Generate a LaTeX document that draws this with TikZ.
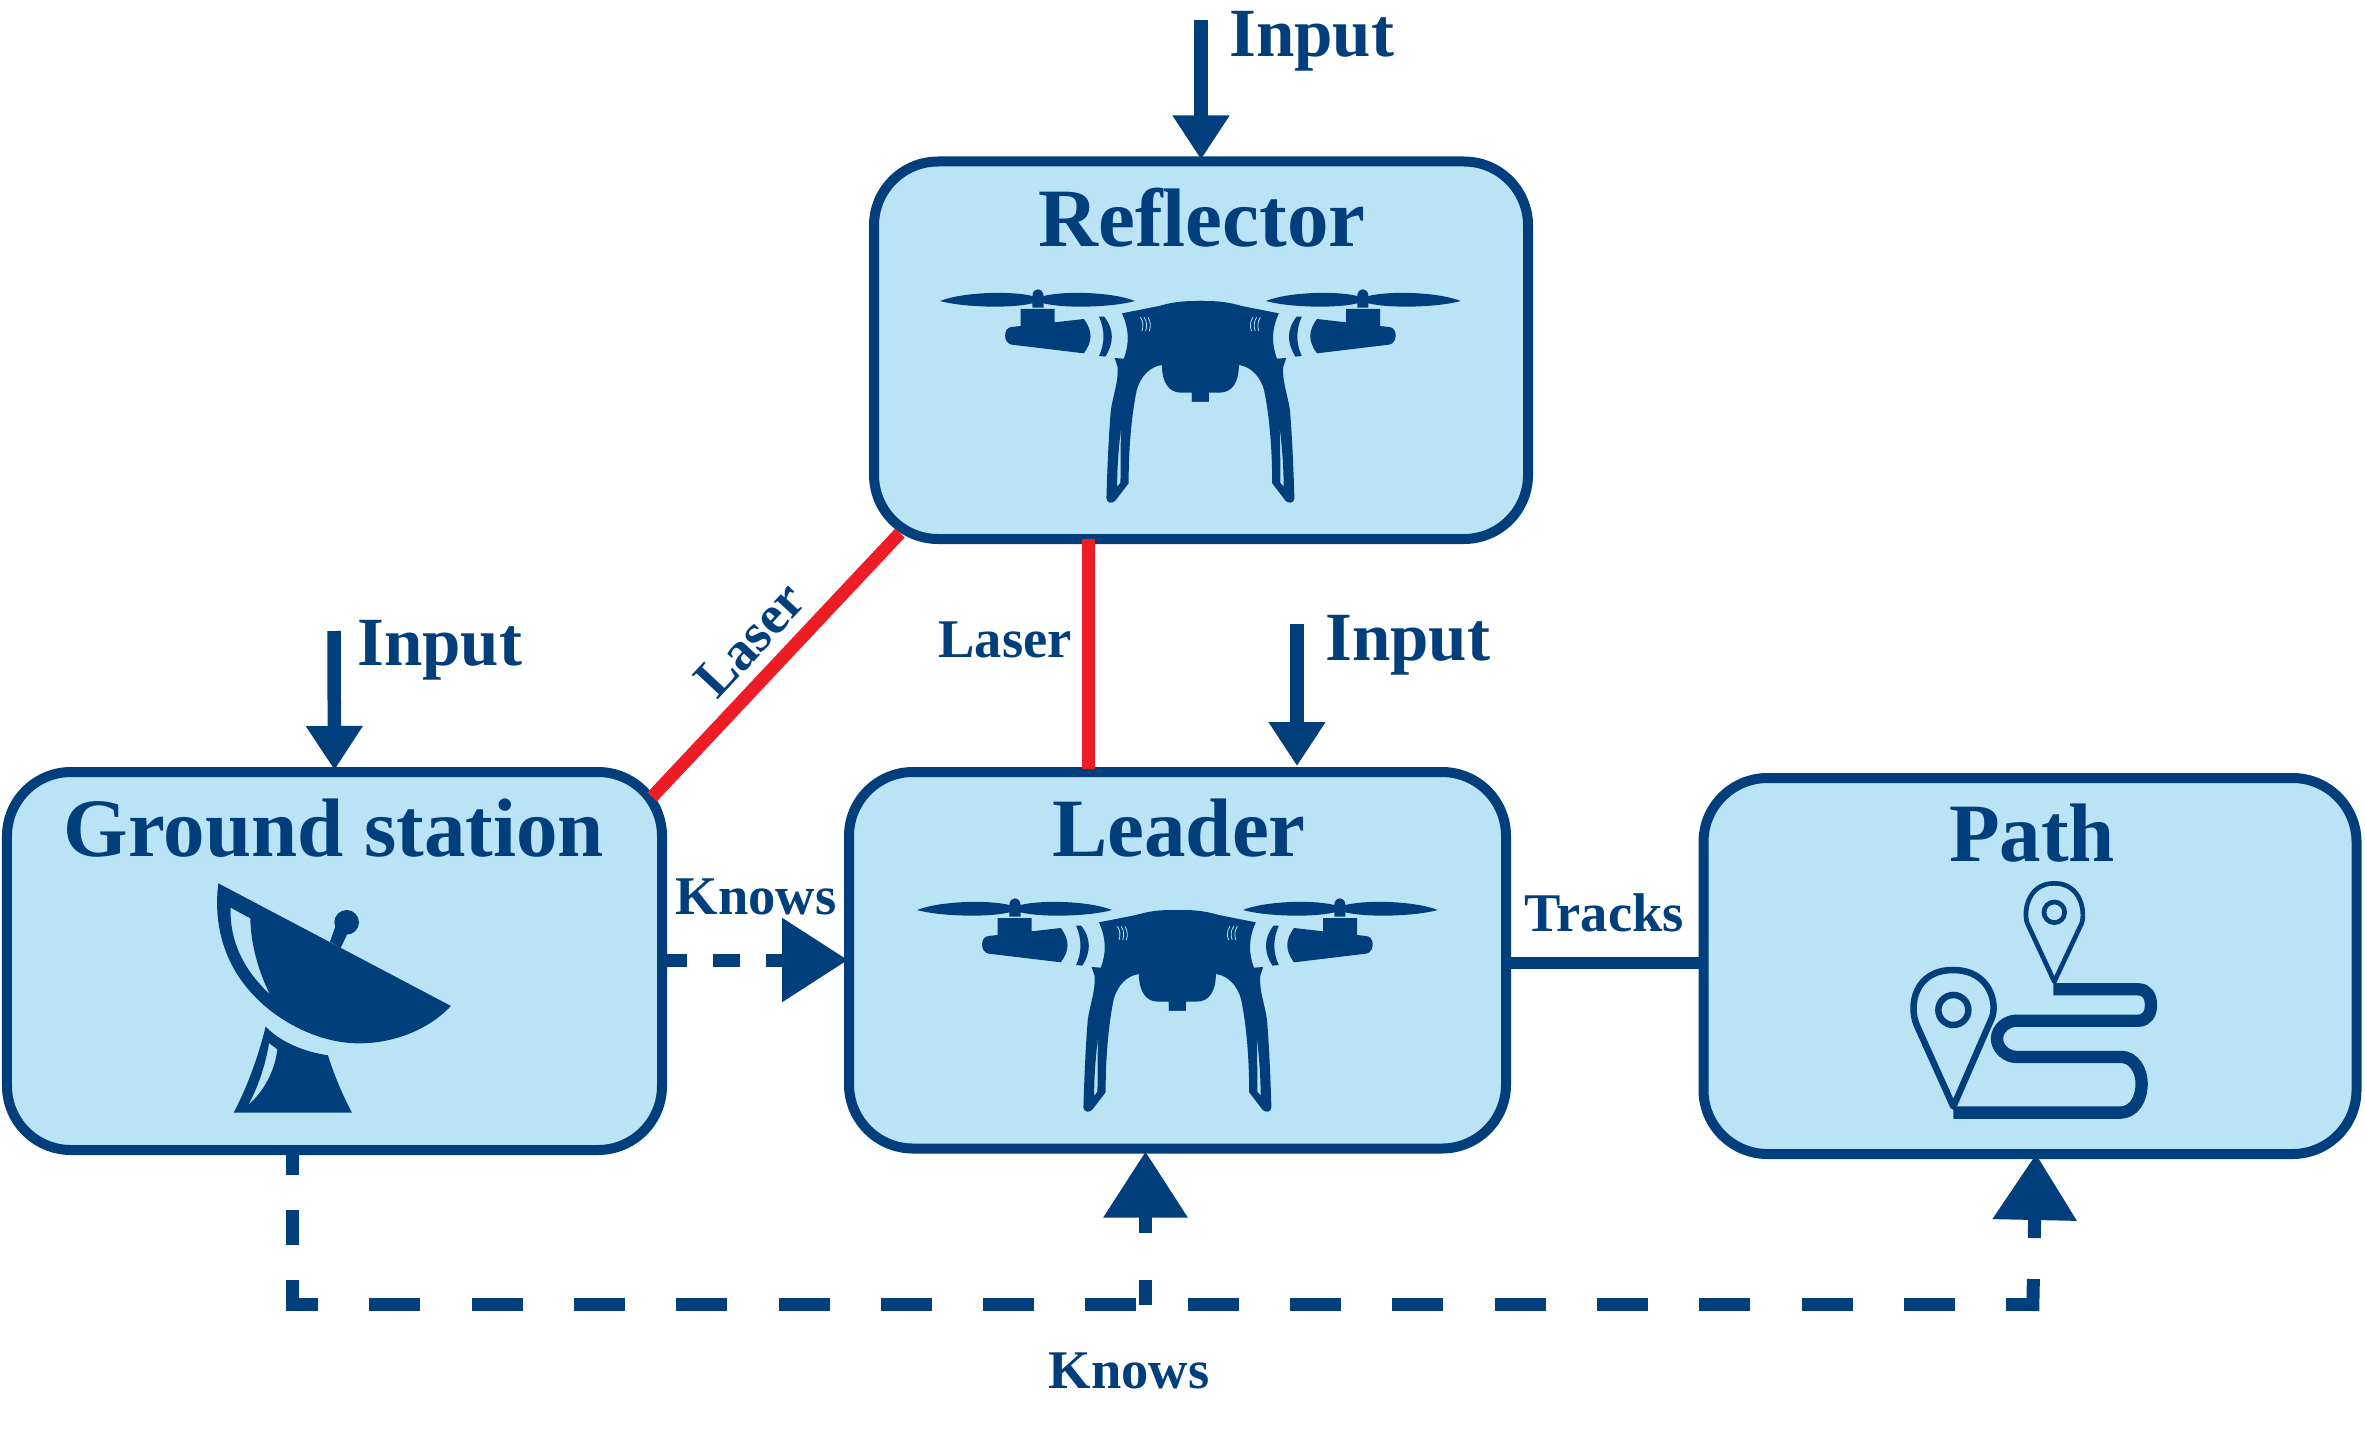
\documentclass[tikz,border=0pt]{standalone}
\usepackage{fontspec}
\setmainfont{Liberation Serif}
\usetikzlibrary{arrows.meta}
\definecolor{navy}{HTML}{003F7C}
\definecolor{pale}{HTML}{BAE4F6}
\definecolor{laser}{HTML}{EE1C25}
\tikzset{
  box/.style={draw=navy,fill=pale,line width=10bp,rounded corners=64bp,outer sep=0pt,inner sep=0pt},
  title/.style={text=navy,anchor=base,inner sep=0pt,font=\bfseries\fontsize{83bp}{90bp}\selectfont},
  inlabel/.style={text=navy,anchor=base west,inner sep=0pt,font=\bfseries\fontsize{69bp}{76bp}\selectfont},
  small/.style={text=navy,anchor=base,inner sep=0pt,font=\bfseries\fontsize{54.5bp}{60bp}\selectfont},
  inarrow/.style={draw=navy,line width=13.5bp,shorten >=2bp,-{Triangle[length=44bp,width=54bp,fill=navy]}},
  dashline/.style={draw=navy,line width=13bp},
  bighead/.style={-{Triangle[length=66bp,width=81bp,fill=navy]},shorten >=1bp},
  beam/.style={draw=laser,line width=13bp},
  link/.style={draw=navy,line width=12bp},
}
\newcommand{\dronehalf}{%
  % propeller
  \fill[navy] (108,93) .. controls (170,66) and (300,62) .. (358,78) .. controls (358,65) and (365,58) .. (372,58)
     .. controls (380,58) and (388,65) .. (388,78) .. controls (445,62) and (575,66) .. (635,93)
     .. controls (575,112) and (445,116) .. (388,100) -- (388,113) -- (358,113) -- (358,100)
     .. controls (300,116) and (170,112) .. (108,93) -- cycle;
  % motor and arm
  \fill[navy] (326,117) -- (418,117) -- (418,157) -- (497,147) .. controls (522,185) and (520,215) .. (497,250)
     -- (302,224) .. controls (278,220) and (278,172) .. (302,171) -- (326,168) -- cycle;
  % arc
  \fill[navy] (538,140) -- (552,140) .. controls (580,180) and (578,220) .. (555,260) -- (538,258)
     .. controls (554,220) and (554,180) .. (538,140) -- cycle;
  % body and leg
  \fill[navy,even odd rule] (600,130) -- (700,108) .. controls (750,92) and (780,93) .. (815,93)
     -- (815,368) -- (835,368) -- (835,395) -- (789,395) -- (789,368) -- (760,368)
     .. controls (725,368) and (708,335) .. (708,285)
     .. controls (675,290) and (650,320) .. (640,360)
     .. controls (625,440) and (618,540) .. (618,640)
     -- (582,692) .. controls (575,702) and (558,700) .. (558,685)
     .. controls (560,600) and (565,480) .. (570,420)
     .. controls (575,380) and (592,330) .. (588,290)
     -- (580,264) -- (605,266) .. controls (620,220) and (620,180) .. (600,130) -- cycle
     (598,472) .. controls (590,540) and (587,600) .. (587,650) -- (596,638) .. controls (596,580) and (596,520) .. (598,472) -- cycle;
  % body hatch
  \foreach \d in {0,10,20}{\draw[pale,line width=.8bp] (650+\d,142) .. controls (658+\d,155) and (658+\d,170) .. (654+\d,183);}
}
\newcommand{\drone}[2]{%
  \begin{scope}[shift={(#1,#2)},x=0.36995bp,y=-0.3333bp]
    \dronehalf
    \begin{scope}[shift={(1624,0)},xscale=-1]\dronehalf\end{scope}
  \end{scope}}
\begin{document}
\begin{tikzpicture}[x=1bp,y=-1bp]
\useasboundingbox (0,0) rectangle (2365,1434);
\fill[white] (0,0) rectangle (2365,1434);

% boxes
\node[box,minimum width=654bp,minimum height=377.5bp] (reflector) at (1201,350.25) {};
\node[box,minimum width=655bp,minimum height=378bp] (ground) at (334.5,961) {};
\node[box,minimum width=657bp,minimum height=376.5bp] (leader) at (1177.5,960.25) {};
\node[box,minimum width=653bp,minimum height=376bp] (path) at (2030,966) {};

% titles
\node[title] (treflector) at (1202,246) {Reflector};
\node[title] (tground) at (334,856) {Ground station};
\node[title] (tleader) at (1179,856) {Leader};
\node[title] (tpath) at (2032,861) {Path};

% icons
\drone{900}{270}
\drone{877}{879}

% dish
\begin{scope}[shift={(180,860)},x=0.3333bp,y=-0.3333bp]
  \fill[navy,even odd rule] (115,70) -- (813,438) .. controls (740,515) and (630,552) .. (530,550)
     .. controls (420,548) and (300,490) .. (220,405) .. controls (130,310) and (100,190) .. (115,70) -- cycle
     (152,143) -- (211,175) .. controls (212,250) and (235,335) .. (270,403)
     .. controls (190,330) and (148,240) .. (152,143) -- cycle;
  \fill[navy] (500,187) circle[radius=37];
  \fill[navy] (450,245) -- (466,200) -- (502,222) -- (482,264) -- cycle;
  \fill[navy,even odd rule] (257,500) .. controls (300,545) and (370,575) .. (444,586)
     .. controls (460,640) and (490,710) .. (516,758) -- (161,758)
     .. controls (200,685) and (235,590) .. (257,500) -- cycle
     (267,549) -- (292,568) .. controls (285,630) and (255,690) .. (205,735)
     .. controls (235,680) and (258,610) .. (267,549) -- cycle;
\end{scope}

% route and pins
\begin{scope}[shift={(1890,870)},x=0.3333bp,y=-0.3333bp]
  \draw[navy,line width=12.3bp] (490,358) -- (745,358) .. controls (771,358) and (783,379) .. (783,405)
     .. controls (783,431) and (771,452) .. (745,452) -- (380,452)
     .. controls (350,452) and (321,476) .. (321,506) .. controls (321,536) and (350,561) .. (380,561)
     -- (695,561) .. controls (730,561) and (755,600) .. (755,640) .. controls (755,690) and (730,728) .. (690,728)
     -- (190,728);
  \draw[navy,line width=4.7bp,line join=round] (493,335) -- (412,160) .. controls (400,130) and (410,40) .. (493,40)
     .. controls (576,40) and (586,130) .. (575,160) -- cycle;
  \draw[navy,line width=4.7bp] (493,127) circle[radius=31];
  \draw[navy,line width=6.5bp,line join=round] (190,710) -- (80,465) .. controls (55,405) and (75,300) .. (189,300)
     .. controls (303,300) and (323,405) .. (305,445) -- cycle;
  \draw[navy,line width=6.5bp] (190,420) circle[radius=45];
\end{scope}

% junction points
\coordinate (ininreflector) at (1201,20);
\coordinate (ininground) at (334,631);
\coordinate (ininleader) at (1297,624);
\coordinate (elbowa) at (292.7,1304.5);
\coordinate (elbowleft) at (286,1304.5);
\coordinate (elbowb) at (1145.5,1304.5);
\coordinate (elbowright) at (2039,1304.5);
\coordinate (elbowc) at (2032.7,1311);
\coordinate (pathfoot) at (2036,1154);
\coordinate (corner) at (292.7,1311);
\coordinate (knowstart) at (ground.east |- 0,960);
\coordinate (knowend) at (leader.west |- 0,960);
\coordinate (beamtop) at (900,533);
\coordinate (beamend) at (652,797);
\coordinate (upleft) at (1088.7,539);
\coordinate (upright) at (1088.7,769);

% input arrows
\draw[inarrow] (ininreflector) -- (reflector.north);
\draw[inarrow] (ininground) -- (ground.north);
\draw[inarrow,shorten >=6bp] (ininleader) -- (ininleader |- leader.north);

% lasers
\draw[beam] (beamtop) -- (beamend);
\draw[beam] (upleft) -- (upright);

% other links
\draw[link] (leader.east |- 0,963) -- (path.west |- 0,963);
\draw[dashline,bighead,dash pattern=on 27bp off 26bp,dash phase=2bp] (knowstart) -- (knowend);
\draw[dashline,dash pattern=on 35bp off 35bp,dash phase=10bp] (elbowa |- ground.south) -- (corner);
\draw[dashline,dash pattern=on 51bp off 51.3bp,dash phase=19bp] (elbowleft) -- (elbowright);
\draw[dashline,bighead,shorten >=3bp,dash pattern=on 25bp off 47bp on 200bp off 0bp] (elbowb) -- (elbowb |- leader.south);
\draw[dashline,bighead,shorten >=0bp,dash pattern=on 32bp off 41bp on 200bp off 0bp] (elbowc) -- (pathfoot);

% labels
\node[inlabel] (inr) at (1229,57) {Input};
\node[inlabel] (ing) at (357,665) {Input};
\node[inlabel] (inl) at (1325,660) {Input};
\node[small] (k1) at (756,914) {Knows};
\node[small] (k2) at (1129,1388) {Knows};
\node[small] (tr) at (1604,931) {Tracks};
\node[small] (l1) at (1005,657) {Laser};
\node[small,anchor=center,rotate=47] (l2) at (750,640) {Laser};
\end{tikzpicture}
\end{document}
